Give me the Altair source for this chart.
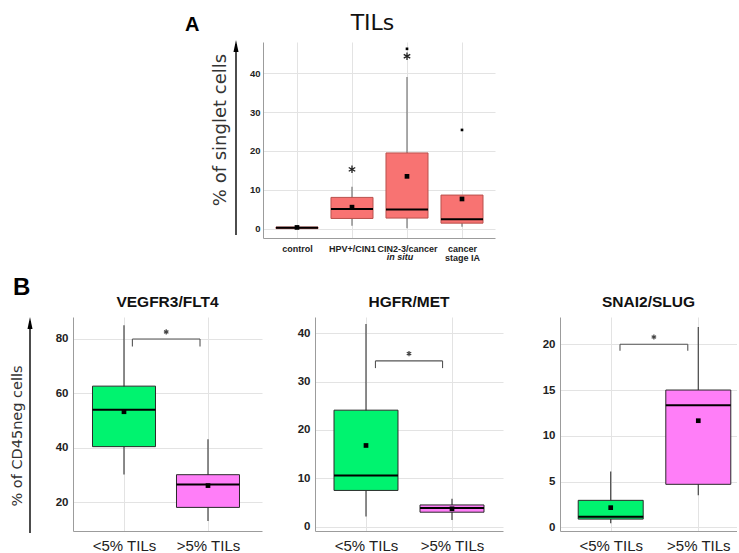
import json

import altair as alt
import pandas as pd

# ---------------- Panel A: TILs (% of singlet cells) by lesion grade ----------------
A_GROUPS = ["control", "HPV+/CIN1", "CIN2-3/cancer in situ", "cancer stage IA"]
A_LABEL_LINES = [["control"], ["HPV+/CIN1"], ["CIN2-3/cancer"], ["cancer", "stage IA"]]
A_LOW = [0.1, 0.8, 0.2, 0.6]
A_Q1 = [0.1, 2.7, 2.8, 1.5]
A_MEDIAN = [0.3, 5.1, 5.0, 2.5]
A_Q3 = [0.5, 8.1, 19.5, 8.7]
A_HIGH = [0.5, 10.8, 39.0, 8.7]
A_MEAN = [0.4, 5.6, 13.5, 7.7]
A_OUT_GROUP = [2, 3, 3, 4]
A_OUT_VALUE = [15.3, 44.3, 46.2, 25.4]
A_OUT_EXTREME = [True, True, False, False]
A_TICKS = [0, 10, 20, 30, 40]

# ---------------- Panel B: % of CD45neg cells by TIL level, per marker ----------------
B_MARKERS = ["VEGFR3/FLT4", "HGFR/MET", "SNAI2/SLUG"]
B_GROUPS = ["<5% TILs", ">5% TILs"]
B_LOW = [[30.3, 13.2], [2.1, 1.4], [0.45, 3.5]]
B_Q1 = [[40.5, 18.2], [7.5, 3.0], [0.9, 4.7]]
B_MEDIAN = [[54.0, 26.6], [10.6, 3.85], [1.15, 13.35]]
B_Q3 = [[62.7, 30.2], [24.1, 4.5], [2.95, 15.0]]
B_HIGH = [[85.0, 43.2], [41.9, 5.8], [6.1, 21.9]]
B_MEAN = [[53.3, 26.2], [16.8, 3.7], [2.15, 11.65]]
B_TICKS = [[20, 40, 60, 80], [0, 10, 20, 30, 40], [0, 5, 10, 15, 20]]
# significance brackets: bar level, tip level, bracket ends, star level
B_BRACKET_Y = [80.0, 34.3, 20.0]
B_BRACKET_TIP = [77.2, 32.8, 19.3]
B_BRACKET_X = [[1.10, 1.905], [1.11, 1.89], [1.106, 1.88]]
B_STAR_Y = [82.6, 35.8, 20.8]

# ---------------- geometry ----------------
A_W, A_H = 232, 196
A_XDOM = [0.382, 4.6]
A_YDOM = [-2.31, 47.95]
A_HALF = 0.382

B_W = [189, 188, 177]
B_H = 214
B_XDOM = [[0.393, 2.643], [0.407, 2.593], [0.421, 2.442]]
B_YDOM = [[9.54, 88.07], [-0.89, 43.37], [-0.40, 22.98]]
B_HALF = [0.375, 0.372, 0.371]
B_EDGES = [(-73, 192), (-50, 191), (-54, 177)]

SALMON, SALMON_EDGE = "#F87372", "#B9504C"
GREEN, PINK = "#00F36F", "#FF7EF8"
STAR = "M0,-1L0,1M-0.87,-0.5L0.87,0.5M-0.87,0.5L0.87,-0.5"
HEAD = "M0,-1L0.42,1L-0.42,1Z"
SANS = "Liberation Sans"


def one(**kw):
    return pd.DataFrame([kw])


def make_axis(**kw):
    base = dict(title=None, ticks=False, domainColor="#9c9c9c", gridColor="#e3e3e3",
                labelFont=SANS, labelColor="#222222", labelOverlap=False,
                labelFlush=False, labelFontWeight="bold")
    base.update(kw)
    return alt.Axis(**base)


def label_expr(labels):
    return json.dumps(labels) + "[datum.value - 1]"


def text_layer(text, x, y, **mark):
    return alt.Chart(one(t=text)).mark_text(**mark).encode(
        x=alt.value(x), y=alt.value(y), text="t:N")


def arrow_layers(x, y_bottom, y_tip):
    line = alt.Chart(one(k=0)).mark_rule(color="black", strokeWidth=1.4).encode(
        x=alt.value(x), y=alt.value(y_bottom), y2=alt.value(y_tip + 4))
    head = alt.Chart(one(k=0)).mark_point(shape=HEAD, filled=True, color="black",
                                           size=144, opacity=1).encode(
        x=alt.value(x), y=alt.value(y_tip + 6))
    return [line, head]


def box_layers(df, X, Y, half, fill, stroke, whisker):
    base = alt.Chart(df).transform_calculate(
        xl=f"datum.pos - {half}", xr=f"datum.pos + {half}")
    whisk = base.mark_rule(color=whisker, strokeWidth=1.2).encode(
        x=X("pos"), y=Y("low"), y2=alt.Y2("high"))
    box = base.mark_rect(fill=fill, stroke=stroke, strokeWidth=1).encode(
        x=X("xl"), x2=alt.X2("xr"), y=Y("q1"), y2=alt.Y2("q3"))
    med = base.mark_rule(color="black", strokeWidth=2).encode(
        x=X("xl"), x2=alt.X2("xr"), y=Y("median"))
    mean = base.mark_square(color="black", size=22, opacity=1).encode(
        x=X("pos"), y=Y("mean"))
    return [whisk, box, med, mean]


# ---------------- panel A ----------------
a_df = pd.DataFrame({"pos": [1, 2, 3, 4], "group": A_GROUPS, "low": A_LOW, "q1": A_Q1,
                     "median": A_MEDIAN, "q3": A_Q3, "high": A_HIGH, "mean": A_MEAN})
a_out = pd.DataFrame({"pos": A_OUT_GROUP, "value": A_OUT_VALUE, "extreme": A_OUT_EXTREME})

a_xs = alt.Scale(domain=A_XDOM, nice=False, zero=False)
a_ys = alt.Scale(domain=A_YDOM, nice=False, zero=False)
a_xaxis = make_axis(values=[1, 2, 3, 4], labelExpr=label_expr(A_LABEL_LINES),
                    labelFontSize=9, labelPadding=6, labelLineHeight=9, grid=True)
a_yaxis = make_axis(values=A_TICKS, labelFontSize=9.5, labelPadding=3, grid=True)


def AX(f):
    return alt.X(f"{f}:Q", scale=a_xs, axis=a_xaxis)


def AY(f):
    return alt.Y(f"{f}:Q", scale=a_ys, axis=a_yaxis)


a_layers = box_layers(a_df, AX, AY, A_HALF, SALMON, SALMON_EDGE, "#777777")
a_layers.append(
    alt.Chart(a_out).transform_filter("datum.extreme").mark_point(
        shape=STAR, filled=False, color="#222222", strokeWidth=1.3, size=56, opacity=1
    ).encode(x=AX("pos"), y=AY("value")))
a_layers.append(
    alt.Chart(a_out).transform_filter("!datum.extreme").mark_square(
        color="black", size=7, opacity=1).encode(x=AX("pos"), y=AY("value")))
a_layers.append(
    alt.Chart(one(pos=3, t="in situ")).mark_text(
        font=SANS, fontSize=9, fontWeight="bold", fontStyle="italic", color="#222222",
        baseline="alphabetic", dx=-7).encode(x=AX("pos"), y=alt.value(218), text="t:N"))
a_layers += [
    text_layer("TILs", 109.5, -12, font="DejaVu Sans", fontSize=22, color="#111111",
               baseline="alphabetic"),
    text_layer("A", -78, -11, font=SANS, fontSize=20, fontWeight="bold", color="black",
               align="left", baseline="alphabetic"),
    text_layer("% of singlet cells", -42, 88, font="DejaVu Sans", fontSize=18,
               color="#333333", angle=270, baseline="middle"),
]
a_layers += arrow_layers(-27, 193, -2)
# fixes the panel's outer extent inside the layout
a_layers.append(alt.Chart(one(k=0)).mark_rule(opacity=0).encode(
    x=alt.value(-85), y=alt.value(-42), y2=alt.value(230)))

panel_a = alt.layer(*a_layers).properties(width=A_W, height=A_H)
spacer = alt.Chart(one(k=0)).mark_point(opacity=0).properties(width=105, height=10)


# ---------------- panel B ----------------
def panel_b(i):
    df = pd.DataFrame({"pos": [1, 2], "group": B_GROUPS, "low": B_LOW[i], "q1": B_Q1[i],
                       "median": B_MEDIAN[i], "q3": B_Q3[i], "high": B_HIGH[i],
                       "mean": B_MEAN[i], "fill": [GREEN, PINK]})
    xs = alt.Scale(domain=B_XDOM[i], nice=False, zero=False)
    ys = alt.Scale(domain=B_YDOM[i], nice=False, zero=False)
    xaxis = make_axis(values=[1, 2], labelExpr=label_expr(B_GROUPS), labelFontSize=15,
                      labelFontWeight="normal", labelPadding=7, grid=True)
    yaxis = make_axis(values=B_TICKS[i], labelFontSize=11.5, labelPadding=5, grid=True)

    def X(f):
        return alt.X(f"{f}:Q", scale=xs, axis=xaxis)

    def Y(f):
        return alt.Y(f"{f}:Q", scale=ys, axis=yaxis)

    half = B_HALF[i]
    base = alt.Chart(df).transform_calculate(
        xl=f"datum.pos - {half}", xr=f"datum.pos + {half}")
    layers = [
        base.mark_rule(color="#444444", strokeWidth=1.2).encode(
            x=X("pos"), y=Y("low"), y2=alt.Y2("high")),
        base.mark_rect(stroke="#2a2a2a", strokeWidth=1).encode(
            x=X("xl"), x2=alt.X2("xr"), y=Y("q1"), y2=alt.Y2("q3"),
            fill=alt.Fill("fill:N", scale=None)),
        base.mark_rule(color="black", strokeWidth=2).encode(
            x=X("xl"), x2=alt.X2("xr"), y=Y("median")),
        base.mark_square(color="black", size=22, opacity=1).encode(
            x=X("pos"), y=Y("mean")),
    ]
    x1, x2 = B_BRACKET_X[i]
    br = pd.DataFrame({"x": [x1, x1, x2], "x2": [x2, x1, x2],
                       "y": [B_BRACKET_Y[i]] * 3,
                       "y2": [B_BRACKET_Y[i], B_BRACKET_TIP[i], B_BRACKET_TIP[i]]})
    layers.append(alt.Chart(br).mark_rule(color="#555555", strokeWidth=1.1).encode(
        x=X("x"), x2=alt.X2("x2"), y=Y("y"), y2=alt.Y2("y2")))
    layers.append(alt.Chart(one(x=(x1 + x2) / 2, y=B_STAR_Y[i])).mark_point(
        shape=STAR, filled=False, color="#444444", strokeWidth=1.2, size=26, opacity=1
    ).encode(x=X("x"), y=Y("y")))
    layers.append(text_layer(B_MARKERS[i], B_W[i] / 2, -10, font=SANS, fontSize=15.5,
                             fontWeight="bold", color="#111111", baseline="alphabetic"))
    if i == 0:
        layers.append(text_layer("B", -60, -22, font=SANS, fontSize=24, fontWeight="bold",
                                 color="black", align="left", baseline="alphabetic"))
        layers.append(text_layer("% of CD45neg cells", -55, 119, font="DejaVu Sans",
                                 fontSize=14.5, color="#333333", angle=270,
                                 baseline="middle"))
        layers += arrow_layers(-43, 216, 0)
    left, right = B_EDGES[i]
    layers.append(alt.Chart(one(k=0)).mark_rule(opacity=0).encode(
        x=alt.value(left), x2=alt.value(right), y=alt.value(-45)))
    return alt.layer(*layers).properties(width=B_W[i], height=B_H)


top_row = alt.hconcat(spacer, panel_a, spacing=0)
bottom_row = alt.hconcat(panel_b(0), panel_b(1), panel_b(2), spacing=0)

chart = (
    alt.vconcat(top_row, bottom_row, spacing=0)
    .properties(padding=0, background="white")
    .configure_view(stroke=None)
)

chart.save("out.html", embed_options={"renderer": "svg", "actions": False})
